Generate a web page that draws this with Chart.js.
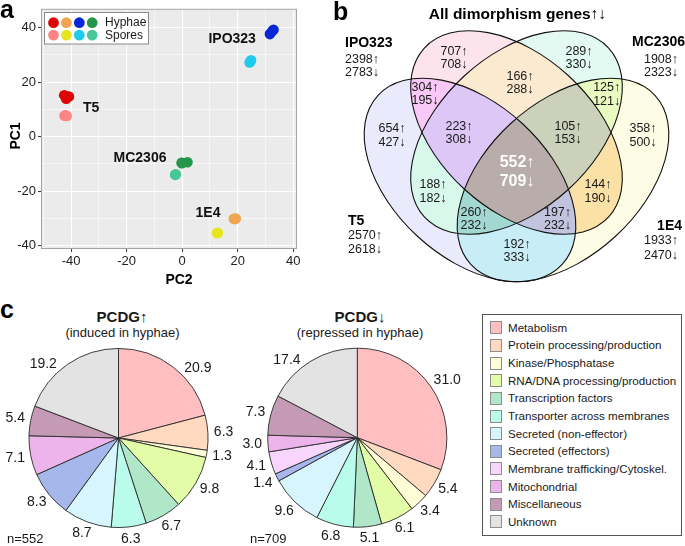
<!DOCTYPE html>
<html><head><meta charset="utf-8">
<script src="https://cdn.jsdelivr.net/npm/chart.js@4.4.1/dist/chart.umd.min.js"></script>
<style>
html,body{margin:0;padding:0;background:#fff;}
body{width:685px;height:546px;position:relative;overflow:hidden;font-family:'Liberation Sans',Arial,sans-serif;color:#1a1a1a;}
canvas{position:absolute;display:block;}
.t{position:absolute;white-space:nowrap;line-height:1;}
.c{transform:translate(-50%,-50%);}
.letter{font-weight:bold;font-size:25px;color:#000;}
#legC{position:absolute;left:482px;top:314px;width:200px;height:222px;border:1px solid #555;box-sizing:border-box;}
.sw{position:absolute;width:12px;height:13px;border:1px solid #8c8c8c;box-sizing:border-box;}
.lt{position:absolute;font-size:11.6px;line-height:1;white-space:nowrap;transform:translateY(-50%);color:#1a1a1a;}
</style></head>
<body>
<canvas id="pca" width="320" height="290" style="left:0;top:0"></canvas>
<canvas id="venn" width="355" height="290" style="left:330px;top:0"></canvas>
<canvas id="pie1" width="240" height="206" style="left:0;top:340px"></canvas>
<canvas id="pie2" width="240" height="206" style="left:240px;top:340px"></canvas>
<div class="t letter" style="left:0;top:-3px">a</div>
<div class="t letter" style="left:333px;top:-1px">b</div>
<div class="t letter" style="left:0;top:297px">c</div>
<div class="t c" style="left:122px;top:316px;font-weight:bold;font-size:15px">PCDG↑</div>
<div class="t c" style="left:122.5px;top:331.5px;font-size:13px">(induced in hyphae)</div>
<div class="t c" style="left:360px;top:316px;font-weight:bold;font-size:15px">PCDG↓</div>
<div class="t c" style="left:360px;top:331.5px;font-size:13px">(repressed in hyphae)</div>
<div class="t" id="n1" style="left:7px;top:532px;font-size:13px"></div>
<div class="t" id="n2" style="left:250px;top:532px;font-size:13px"></div>
<div id="legC"></div>
<script>
// ================= DATA =================
// Panel a: PCA (x = PC2, y = PC1), replicates per strain
const strainNames = ['T5', '1E4', 'IPO323', 'MC2306'];
const hyphaeColors = ['#DE0404', '#F0A550', '#0527D8', '#22964A'];
const sporeColors  = ['#FF8484', '#E8E420', '#1FCBEC', '#47C897'];
const t5Hyphae   = [[-42.5, 15.2], [-40.8, 14.7], [-41.8, 13.9]];
const e4Hyphae   = [[18.6, -30.1], [19.3, -30.0], [19.0, -30.2]];
const ipoHyphae  = [[31.6, 37.6], [32.4, 38.6], [32.9, 39.2]];
const mcHyphae   = [[-0.2, -9.6], [1.9, -9.4], [-0.1, -9.7]];
const t5Spores   = [[-42.4, 7.7], [-41.6, 7.6], [-42.0, 7.8]];
const e4Spores   = [[12.7, -35.3], [12.8, -35.2], [12.6, -35.4]];
const ipoSpores  = [[24.3, 27.2], [24.8, 28.0], [24.6, 27.6]];
const mcSpores   = [[-2.4, -13.9], [-2.3, -13.8], [-2.5, -14.0]];
const hyphaeData = [t5Hyphae, e4Hyphae, ipoHyphae, mcHyphae];
const sporeData  = [t5Spores, e4Spores, ipoSpores, mcSpores];
const strainLabelPC2 = [-32.8, 9.3, 18.0, -15.2];
const strainLabelPC1 = [10.3, -28.2, 35.9, -7.9];
const pc2Ticks = [-40, -20, 0, 20, 40];
const pc2Minor = [-50, -30, -10, 10, 30];
const pc1Ticks = [-40, -20, 0, 20, 40];
const pc1Minor = [-30, -10, 10, 30];

// Panel b: Venn counts
const vennSets  = ['IPO323', 'MC2306', 'T5', '1E4'];
const vennSetUp   = [2398, 1908, 2570, 1933];
const vennSetDown = [2783, 2323, 2618, 2470];
const vennRegions = ['I','M','T','E','IM','IT','IE','MT','ME','TE','IMT','IME','ITE','MTE','IMTE'];
const vennUp      = [707, 289, 654, 358, 166, 304, 144, 188, 125, 192, 223, 105, 197, 260, 552];
const vennDown    = [708, 330, 427, 500, 288, 195, 190, 182, 121, 333, 308, 153, 232, 232, 709];

// Panel c: pie charts (% of genes)
const pieCategories = ['Metabolism','Protein processing/production','Kinase/Phosphatase','RNA/DNA processing/production','Transcription factors','Transporter across membranes','Secreted (non-effector)','Secreted (effectors)','Membrane trafficking/Cytoskel.','Mitochondrial','Miscellaneous','Unknown'];
const pcdgUp   = [20.9, 6.3, 1.3, 9.8, 6.7, 6.3, 8.7, 8.3, 0, 7.1, 5.4, 19.2];
const pcdgDown = [31.0, 5.4, 3.4, 6.1, 5.1, 6.8, 9.6, 1.4, 4.1, 3.0, 7.3, 17.4];
const nUp = 552, nDown = 709;

// ================= STYLE / LAYOUT =================
const FONT = '"Liberation Sans", Arial, sans-serif';
Chart.defaults.font.family = FONT;
Chart.defaults.color = '#222';
const pieColors = ['#FFBFC1','#FFDAC0','#FFFDD6','#E2FCA8','#B0E7C9','#B9FCEB','#D7F5FC','#A6B7EB','#F8D5FC','#ECB4EA','#C49AB5','#E3E3E3'];
const regionColors = {I:'#FDE4EC', M:'#E2FAF1', T:'#E9EBFC', E:'#FDFDE5', IM:'#FBEACF', IT:'#F8C9F6', IE:'#FCE1A6', MT:'#D9F8EC', ME:'#E9FBC0', TE:'#C9EDF7', IMT:'#DCC7F6', IME:'#CBD1BA', ITE:'#C2C3DE', MTE:'#A3D8D2', IMTE:'#B8ADAA'};
const setCode = {I:0, M:1, T:2, E:3};
// ellipse layout in venn units (same as page pixels)
const vennEllipses = [
  {cx:516.5, cy:132.5, rx:125, ry:77, rot: 42.5},
  {cx:516.5, cy:132.5, rx:125, ry:77, rot:-42.5},
  {cx:470,   cy:180,   rx:125, ry:77, rot: 42.5},
  {cx:563,   cy:180,   rx:125, ry:77, rot:-42.5}
];
const regionLabelPos = {I:[454,58], M:[579,58], T:[392,135.5], E:[643,135.5], IM:[520,83], IT:[425,94], IE:[598,191.7], MT:[433,191.7], ME:[606.7,94.7], TE:[517,251], IMT:[459,133], IME:[568,133], ITE:[557.5,219], MTE:[474,219], IMTE:[517,172.5]};
const setLabelPos = [
  {x:345, nx:345, align:'left',  y:[43, 59.5, 73]},
  {x:685, nx:678, align:'right', y:[42.5, 59.5, 73]},
  {x:348, nx:348, align:'left',  y:[221, 236, 250]},
  {x:682, nx:678, align:'right', y:[226, 241, 256]}
];

// ================= PANEL A =================
const isMaj = (arr, v) => arr.includes(v);
const pcaDatasets = [];
strainNames.forEach((s, i) => {
  pcaDatasets.push({label: s + ' hyphae', data: hyphaeData[i].map(p => ({x: p[0], y: p[1]})), backgroundColor: hyphaeColors[i]});
  pcaDatasets.push({label: s + ' spores', data: sporeData[i].map(p => ({x: p[0], y: p[1]})), backgroundColor: sporeColors[i]});
});
const pcaDecor = {
  id: 'pcaDecor',
  beforeDraw(chart) {
    const {ctx, chartArea: a} = chart;
    ctx.save(); ctx.fillStyle = '#EBEBEB';
    ctx.fillRect(a.left, a.top, a.right - a.left, a.bottom - a.top); ctx.restore();
  },
  afterDatasetsDraw(chart) {
    const {ctx, scales: {x, y}} = chart;
    ctx.save();
    ctx.font = 'bold 14px ' + FONT; ctx.fillStyle = '#111';
    ctx.textAlign = 'center'; ctx.textBaseline = 'middle';
    strainNames.forEach((n, i) => ctx.fillText(n, x.getPixelForValue(strainLabelPC2[i]), y.getPixelForValue(strainLabelPC1[i])));
    ctx.restore();
  },
  afterDraw(chart) {
    const {ctx, chartArea: a} = chart;
    ctx.save();
    ctx.strokeStyle = '#A3A3A3'; ctx.lineWidth = 1;
    ctx.strokeRect(a.left - 0.5, a.top - 0.5, a.right - a.left + 1, a.bottom - a.top + 1);
    // legend
    ctx.fillStyle = '#fff'; ctx.fillRect(44.5, 12.5, 104, 31.5);
    ctx.strokeStyle = '#8a8a8a'; ctx.strokeRect(44.5, 12.5, 104, 31.5);
    [hyphaeColors, sporeColors].forEach((cols, r) => {
      cols.forEach((c, k) => {
        ctx.beginPath(); ctx.fillStyle = c;
        ctx.arc(53.5 + k * 12.9, 22.7 + r * 12.4, 5.4, 0, 2 * Math.PI); ctx.fill();
      });
    });
    ctx.fillStyle = '#1a1a1a'; ctx.font = '12px ' + FONT; ctx.textAlign = 'left'; ctx.textBaseline = 'middle';
    ctx.fillText('Hyphae', 105, 23); ctx.fillText('Spores', 105, 35.5);
    // axis titles
    ctx.font = 'bold 14px ' + FONT; ctx.fillStyle = '#000'; ctx.textAlign = 'center';
    ctx.fillText('PC2', 179, 280);
    ctx.translate(16, 136); ctx.rotate(-Math.PI / 2); ctx.fillText('PC1', 0, 0);
    ctx.restore();
  }
};
function axisCfg(min, max, major, minor, isX) {
  return {
    type: 'linear', min, max,
    afterBuildTicks: s => { s.ticks = major.concat(minor).sort((p, q) => p - q).map(v => ({value: v})); },
    afterFit: s => { if (isX) s.height = 42; else s.width = 42; },
    ticks: {callback: v => isMaj(major, v) ? String(v) : '', font: {size: 13}, color: '#222', padding: 2, autoSkip: false, maxRotation: 0},
    grid: {
      color: '#FFFFFF',
      lineWidth: c => (c.tick && isMaj(major, c.tick.value)) ? 1.1 : 0.55,
      tickColor: c => (c.tick && isMaj(major, c.tick.value)) ? '#333' : 'rgba(0,0,0,0)',
      tickLength: 4, tickWidth: 1, drawTicks: true
    },
    border: {display: false}
  };
}
new Chart(document.getElementById('pca'), {
  type: 'scatter',
  data: {datasets: pcaDatasets},
  options: {
    responsive: false, animation: false, events: [],
    layout: {padding: {left: 0, top: 9, right: 24, bottom: 0}},
    elements: {point: {radius: 5.3, borderWidth: 0, hoverRadius: 5.3}},
    plugins: {legend: {display: false}, tooltip: {enabled: false}},
    scales: {x: axisCfg(-50.5, 41, pc2Ticks, pc2Minor, true), y: axisCfg(-40.8, 46.5, pc1Ticks, pc1Minor, false)}
  },
  plugins: [pcaDecor]
});

// ================= PANEL B =================
const vennPlugin = {
  id: 'vennDraw',
  afterDatasetsDraw(chart) {
    const {ctx, scales: {x, y}} = chart;
    const kx = Math.abs(x.getPixelForValue(1) - x.getPixelForValue(0));
    const ky = Math.abs(y.getPixelForValue(1) - y.getPixelForValue(0));
    const path = e => {
      ctx.beginPath();
      ctx.ellipse(x.getPixelForValue(e.cx), y.getPixelForValue(e.cy), e.rx * kx, e.ry * ky, e.rot * Math.PI / 180, 0, 2 * Math.PI);
    };
    const order = vennRegions.slice().sort((p, q) => p.length - q.length);
    order.forEach(code => {
      ctx.save();
      code.split('').forEach(ch => { path(vennEllipses[setCode[ch]]); ctx.clip(); });
      ctx.fillStyle = regionColors[code];
      ctx.fillRect(0, 0, chart.width, chart.height);
      ctx.restore();
    });
    ctx.save();
    ctx.strokeStyle = '#111'; ctx.lineWidth = 1.1;
    vennEllipses.forEach(e => { path(e); ctx.stroke(); });
    ctx.textAlign = 'center'; ctx.textBaseline = 'middle';
    vennRegions.forEach((code, i) => {
      const px = x.getPixelForValue(regionLabelPos[code][0]);
      const py = y.getPixelForValue(regionLabelPos[code][1]);
      if (code === 'IMTE') {
        ctx.font = 'bold 16px ' + FONT; ctx.fillStyle = '#fff';
        ctx.fillText(vennUp[i] + '↑', px, py - 9.5); ctx.fillText(vennDown[i] + '↓', px, py + 9.5);
      } else {
        ctx.font = '12.5px ' + FONT; ctx.fillStyle = '#1a1a1a';
        ctx.fillText(vennUp[i] + '↑', px, py - 6.7); ctx.fillText(vennDown[i] + '↓', px, py + 6.7);
      }
    });
    // set labels
    vennSets.forEach((s, i) => {
      const L = setLabelPos[i];
      ctx.textAlign = L.align; ctx.fillStyle = '#000';
      ctx.font = 'bold 14px ' + FONT;
      ctx.fillText(s, x.getPixelForValue(L.x), y.getPixelForValue(L.y[0]));
      ctx.font = '12.5px ' + FONT; ctx.fillStyle = '#1a1a1a';
      ctx.fillText(vennSetUp[i] + '↑', x.getPixelForValue(L.nx), y.getPixelForValue(L.y[1]));
      ctx.fillText(vennSetDown[i] + '↓', x.getPixelForValue(L.nx), y.getPixelForValue(L.y[2]));
    });
    ctx.textAlign = 'center'; ctx.fillStyle = '#000'; ctx.font = 'bold 15.5px ' + FONT;
    ctx.fillText('All dimorphism genes↑↓', x.getPixelForValue(517.5), y.getPixelForValue(15));
    ctx.restore();
  }
};
new Chart(document.getElementById('venn'), {
  type: 'scatter',
  data: {datasets: [{data: []}]},
  options: {
    responsive: false, animation: false, events: [],
    layout: {padding: 0},
    plugins: {legend: {display: false}, tooltip: {enabled: false}},
    scales: {x: {type: 'linear', min: 330, max: 685, display: false}, y: {type: 'linear', min: 0, max: 290, reverse: true, display: false}}
  },
  plugins: [vennPlugin]
});

// ================= PANEL C =================
const pieLabels = {
  id: 'pieLabels',
  afterDatasetsDraw(chart) {
    const ctx = chart.ctx, meta = chart.getDatasetMeta(0), vals = chart.data.datasets[0].data;
    ctx.save();
    ctx.font = '14px ' + FONT; ctx.fillStyle = '#1a1a1a'; ctx.textAlign = 'center'; ctx.textBaseline = 'middle';
    meta.data.forEach((arc, i) => {
      if (!vals[i]) return;
      const p = arc.getProps(['x', 'y', 'startAngle', 'endAngle', 'outerRadius'], true);
      let a = (p.startAngle + p.endAngle) / 2;
      // labels near the top are swung towards the horizontal, away from the titles
      if (Math.sin(a) < -0.7) a += (Math.cos(a) > 0 ? 1 : -1) * 9 * Math.PI / 180;
      const c = Math.cos(a), s = Math.sin(a);
      const txt = vals[i].toFixed(1), w = ctx.measureText(txt).width;
      ctx.fillText(txt, p.x + (p.outerRadius + 5) * c + (w / 2 + 1) * c, p.y + (p.outerRadius + 5) * s + 7 * s);
    });
    ctx.restore();
  }
};
function pieCfg(values, pad) {
  return {
    type: 'pie',
    data: {labels: pieCategories, datasets: [{data: values, backgroundColor: pieColors, borderColor: '#2a2a2a', borderWidth: 0.9, hoverOffset: 0}]},
    options: {responsive: false, animation: false, events: [], layout: {padding: pad},
      plugins: {legend: {display: false}, tooltip: {enabled: false}}},
    plugins: [pieLabels]
  };
}
new Chart(document.getElementById('pie1'), pieCfg(pcdgUp, {left: 28.5, right: 31.5, top: 8, bottom: 18}));
new Chart(document.getElementById('pie2'), pieCfg(pcdgDown, {left: 27.3, right: 32.7, top: 7.7, bottom: 18.3}));
document.getElementById('n1').textContent = 'n=' + nUp;
document.getElementById('n2').textContent = 'n=' + nDown;

// legend (panel c)
pieCategories.forEach((cat, i) => {
  const cy = 327.7 + i * 17.66;
  const sw = document.createElement('div');
  sw.className = 'sw'; sw.style.left = '489.5px'; sw.style.top = (cy - 6.5) + 'px'; sw.style.background = pieColors[i];
  document.body.appendChild(sw);
  const t = document.createElement('div');
  t.className = 'lt'; t.style.left = '508px'; t.style.top = cy + 'px'; t.textContent = cat;
  document.body.appendChild(t);
});
</script>
</body></html>
